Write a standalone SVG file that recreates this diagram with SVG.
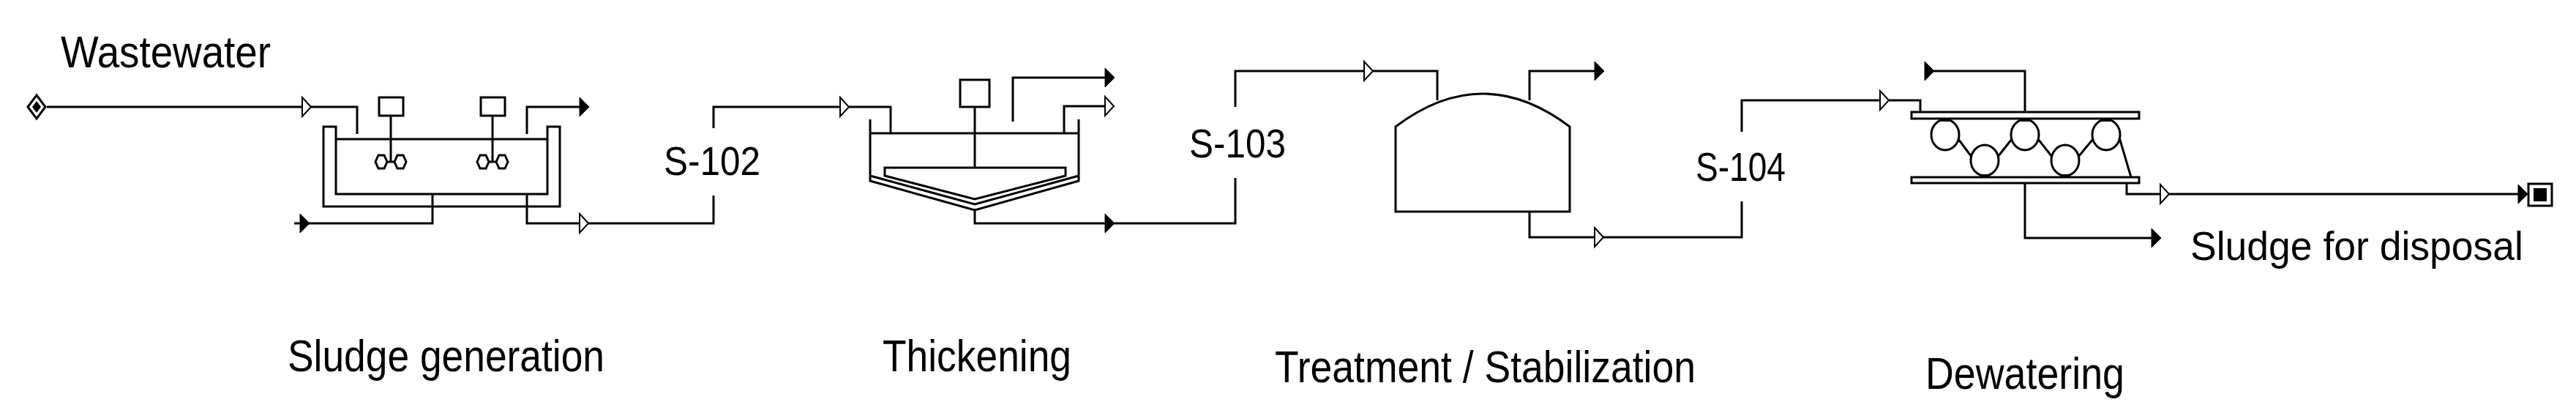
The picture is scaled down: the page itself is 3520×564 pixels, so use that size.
<svg xmlns="http://www.w3.org/2000/svg" xmlns:xlink="http://www.w3.org/1999/xlink" width="3520" height="564" viewBox="0 0 3520 564">
<style>
.l{fill:none;stroke:#000;stroke-width:3}
.t{font-family:"Liberation Sans",Arial,sans-serif;fill:#000}
.oa{fill:#fff;stroke:#000;stroke-width:2}
.fa{fill:#000;stroke:#000;stroke-width:1}
</style>
<defs>
<path id="oa" class="oa" d="M0,-13 L12,0 L0,13 Z"/>
<path id="fa" class="fa" d="M0,-13 L13,0 L0,13 Z"/>
<path id="hex" class="l" stroke-width="2.5" d="M-8,0 L-4,-9 L4,-9 L8,0 L4,9 L-4,9 Z"/>
</defs>
<rect width="3520" height="564" fill="#fff"/>

<g id="connectors">
  <path class="l" d="M64,146 L488,146 L488,183"/>
  <use href="#oa" x="413" y="146"/>
  <path class="l" d="M720,183 L720,146 L794,146"/>
  <use href="#fa" x="792" y="146"/>
  <path class="l" d="M591,265 L591,305 L402,305"/>
  <use href="#fa" x="410" y="305"/>
  <path class="l" d="M720,265 L720,305 L975,305 L975,267"/>
  <use href="#oa" x="792" y="305"/>
  <path class="l" d="M975,175 L975,146 L1217,146 L1217,182"/>
  <use href="#oa" x="1148" y="146"/>
  <path class="l" d="M1384,166 L1384,106 L1512,106"/>
  <use href="#fa" x="1510" y="106"/>
  <path class="l" d="M1454,182 L1454,145 L1512,145"/>
  <use href="#oa" x="1510" y="145"/>
  <path class="l" d="M1332,285 L1332,305 L1688,305 L1688,243"/>
  <use href="#fa" x="1510" y="305"/>
  <path class="l" d="M1688,146 L1688,97 L1964,97 L1964,137"/>
  <use href="#oa" x="1864" y="97"/>
  <path class="l" d="M2090,137 L2090,97 L2181,97"/>
  <use href="#fa" x="2179" y="97"/>
  <path class="l" d="M2090,289 L2090,324 L2380,324 L2380,275"/>
  <use href="#oa" x="2179" y="324"/>
  <path class="l" d="M2380,180 L2380,137 L2624,137 L2624,153"/>
  <use href="#oa" x="2569" y="137"/>
  <path class="l" d="M2767,153 L2767,97 L2630,97"/>
  <use href="#fa" x="2630" y="97"/>
  <path class="l" d="M2906,250 L2906,265 L3450,265"/>
  <use href="#oa" x="2952" y="265"/>
  <use href="#fa" x="3441" y="265"/>
  <path class="l" d="M2767,250 L2767,325 L2942,325"/>
  <use href="#fa" x="2940" y="325"/>
</g>

<g id="source">
  <path class="l" stroke-width="2.5" d="M50,130 L62,146 L50,162 L38,146 Z"/>
  <path fill="#000" d="M50,138 L56,146 L50,154 L44,146 Z"/>
</g>
<g id="sink">
  <rect x="3455" y="251" width="32" height="30" fill="#fff" stroke="#000" stroke-width="3"/>
  <rect x="3462" y="257" width="18" height="18" fill="#000"/>
</g>

<g id="sludge-generation">
  <path class="l" d="M442,173 L442,282 L765,282 L765,173 L748,173 L748,265 L459,265 L459,173 Z"/>
  <path class="l" d="M459,190 L748,190"/>
  <rect class="l" x="518" y="133" width="33" height="25"/>
  <path class="l" d="M534,158 L534,221"/>
  <use href="#hex" x="521" y="221"/>
  <use href="#hex" x="547" y="221"/>
  <path class="l" stroke-width="2" d="M529,221 L539,221"/>
  <rect class="l" x="657" y="133" width="33" height="25"/>
  <path class="l" d="M673,158 L673,221"/>
  <use href="#hex" x="660" y="221"/>
  <use href="#hex" x="686" y="221"/>
  <path class="l" stroke-width="2" d="M668,221 L678,221"/>
</g>

<g id="thickener">
  <path class="l" d="M1189,163 L1189,247 L1332,287 L1474,247 L1474,163"/>
  <path class="l" d="M1189,182 L1474,182"/>
  <rect class="l" x="1312" y="109" width="40" height="37"/>
  <path class="l" d="M1332,146 L1332,229"/>
  <path class="l" d="M1209,229 L1456,229 L1456,240 L1332,272 L1209,240 Z"/>
  <path class="l" d="M1189,240 L1332,279 L1474,240"/>
</g>

<g id="digester">
  <path class="l" d="M1907,289 L1907,173 Q2026,83 2145,173 L2145,289 Z"/>
</g>

<g id="belt-press">
  <rect class="l" x="2612" y="153" width="311" height="9"/>
  <rect class="l" x="2612" y="242" width="311" height="8"/>
  <ellipse class="l" stroke-width="2" cx="2658" cy="184" rx="19" ry="21"/>
  <ellipse class="l" stroke-width="2" cx="2767" cy="184" rx="19" ry="21"/>
  <ellipse class="l" stroke-width="2" cx="2878" cy="184" rx="19" ry="21"/>
  <ellipse class="l" stroke-width="2" cx="2712" cy="219" rx="19" ry="21"/>
  <ellipse class="l" stroke-width="2" cx="2822" cy="219" rx="19" ry="21"/>
  <rect x="2651" y="162" width="14" height="4" fill="#000"/>
  <rect x="2760" y="162" width="14" height="4" fill="#000"/>
  <rect x="2871" y="162" width="14" height="4" fill="#000"/>
  <rect x="2705" y="238" width="14" height="4" fill="#000"/>
  <rect x="2815" y="238" width="14" height="4" fill="#000"/>
  <path class="l" stroke-width="2" d="M2676,190 L2694,214 M2730,214 L2749,190 M2785,190 L2804,214 M2840,214 L2860,190 M2896,188 L2912,242"/>
</g>

<g id="labels">
  <text class="t" x="83" y="92" font-size="61" textLength="287" lengthAdjust="spacingAndGlyphs">Wastewater</text>
  <text class="t" x="907" y="239" font-size="55" textLength="132" lengthAdjust="spacingAndGlyphs">S-102</text>
  <text class="t" x="1625" y="215" font-size="55" textLength="132" lengthAdjust="spacingAndGlyphs">S-103</text>
  <text class="t" x="2317" y="247" font-size="55" textLength="123" lengthAdjust="spacingAndGlyphs">S-104</text>
  <text class="t" x="2993" y="355" font-size="55" textLength="455" lengthAdjust="spacingAndGlyphs">Sludge for disposal</text>
  <text class="t" x="393" y="507" font-size="62" textLength="433" lengthAdjust="spacingAndGlyphs">Sludge generation</text>
  <text class="t" x="1206" y="507" font-size="62" textLength="258" lengthAdjust="spacingAndGlyphs">Thickening</text>
  <text class="t" x="1742" y="522" font-size="62" textLength="575" lengthAdjust="spacingAndGlyphs">Treatment / Stabilization</text>
  <text class="t" x="2631" y="531" font-size="62" textLength="272" lengthAdjust="spacingAndGlyphs">Dewatering</text>
</g>
</svg>
